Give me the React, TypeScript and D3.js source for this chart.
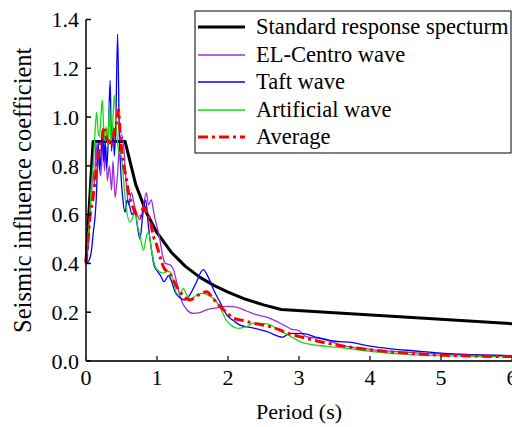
import React from "react";
import * as d3 from "d3";

const W = 512;
const H = 427;

const xTicks = [0, 1, 2, 3, 4, 5, 6];
const yTicks = [0, 0.2, 0.4, 0.6, 0.8, 1.0, 1.2, 1.4];

const legendLabels = [
  "Standard response specturm",
  "EL-Centro wave",
  "Taft wave",
  "Artificial wave",
  "Average",
];

const standardT = [0, 0.1, 0.55, 0.7, 0.85, 1.0, 1.2, 1.4, 1.6, 1.8, 2.0, 2.25, 2.5, 2.75, 6.0];
const standardV = [0.405, 0.9, 0.9, 0.724, 0.609, 0.526, 0.446, 0.388, 0.344, 0.31, 0.282, 0.253, 0.23, 0.211, 0.153];

const elT = [0, 0.03, 0.06, 0.08, 0.1, 0.12, 0.14, 0.16, 0.18, 0.2, 0.22, 0.24, 0.26, 0.28, 0.3, 0.33, 0.36, 0.38, 0.41, 0.44, 0.47, 0.5, 0.53, 0.57, 0.6, 0.64, 0.68, 0.72, 0.76, 0.8, 0.85, 0.88, 0.92, 0.96, 1.0, 1.04, 1.08, 1.12, 1.18, 1.23, 1.28, 1.33, 1.42, 1.51, 1.6, 1.7, 1.84, 2.0, 2.1, 2.26, 2.4, 2.59, 2.78, 2.9, 3.0, 3.1, 3.3, 3.67, 4.0, 4.6, 5.5, 6.0];
const elV = [0.4, 0.48, 0.62, 0.7, 0.78, 0.72, 0.9, 0.8, 0.86, 0.76, 0.8, 0.92, 0.78, 0.88, 0.74, 0.8, 0.7, 0.82, 0.67, 0.75, 0.88, 0.93, 0.88, 0.72, 0.64, 0.69, 0.64, 0.6, 0.58, 0.62, 0.69, 0.64, 0.66, 0.6, 0.55, 0.5, 0.43, 0.4, 0.395, 0.375, 0.32, 0.26, 0.21, 0.195, 0.198, 0.21, 0.218, 0.224, 0.222, 0.205, 0.19, 0.175, 0.148, 0.13, 0.124, 0.1, 0.092, 0.06, 0.048, 0.034, 0.025, 0.022];

const taftT = [0, 0.04, 0.08, 0.1, 0.13, 0.15, 0.17, 0.19, 0.21, 0.23, 0.25, 0.27, 0.29, 0.31, 0.34, 0.36, 0.38, 0.4, 0.42, 0.445, 0.47, 0.49, 0.52, 0.55, 0.58, 0.61, 0.65, 0.69, 0.72, 0.76, 0.8, 0.84, 0.88, 0.92, 0.96, 1.0, 1.05, 1.1, 1.16, 1.2, 1.26, 1.32, 1.39, 1.46, 1.55, 1.65, 1.72, 1.8, 1.89, 1.98, 2.08, 2.17, 2.36, 2.55, 2.77, 2.87, 3.06, 3.25, 3.48, 3.76, 4.0, 4.3, 4.6, 5.0, 5.5, 6.0];
const taftV = [0.4, 0.41, 0.46, 0.52, 0.6, 0.7, 0.9, 0.78, 0.84, 0.95, 0.82, 0.9, 0.79, 0.88, 1.15, 0.86, 0.96, 0.84, 0.98, 1.34, 0.92, 0.78, 0.66, 0.61, 0.66, 0.64, 0.6, 0.62, 0.56, 0.5, 0.6, 0.66, 0.55, 0.46, 0.39, 0.37, 0.35, 0.325, 0.35, 0.33, 0.28, 0.26, 0.25, 0.27, 0.32, 0.375, 0.345, 0.29, 0.24, 0.19, 0.165, 0.147, 0.135, 0.12, 0.098, 0.113, 0.112, 0.097, 0.082, 0.075, 0.061, 0.05, 0.042, 0.032, 0.025, 0.022];

const artT = [0, 0.03, 0.05, 0.07, 0.1, 0.12, 0.15, 0.17, 0.19, 0.21, 0.23, 0.25, 0.27, 0.29, 0.31, 0.33, 0.35, 0.37, 0.4, 0.43, 0.46, 0.5, 0.53, 0.57, 0.62, 0.66, 0.69, 0.73, 0.77, 0.81, 0.85, 0.88, 0.92, 0.97, 1.02, 1.09, 1.14, 1.18, 1.23, 1.27, 1.32, 1.37, 1.42, 1.48, 1.56, 1.65, 1.75, 1.82, 1.9, 1.98, 2.05, 2.14, 2.26, 2.36, 2.55, 2.73, 2.92, 3.06, 3.39, 3.67, 4.0, 4.6, 5.5, 6.0];
const artV = [0.44, 0.52, 0.58, 0.7, 0.8, 0.9, 1.02, 0.94, 0.92, 1.0, 1.07, 0.95, 0.9, 0.96, 0.88, 1.06, 0.9, 0.94, 1.09, 0.95, 0.86, 0.84, 0.74, 0.62, 0.57, 0.59, 0.61, 0.55, 0.5, 0.455, 0.51, 0.53, 0.46, 0.39, 0.37, 0.36, 0.367, 0.366, 0.33, 0.28, 0.27, 0.298, 0.27, 0.255, 0.27, 0.277, 0.265, 0.25, 0.212, 0.165, 0.145, 0.134, 0.141, 0.155, 0.152, 0.125, 0.095, 0.074, 0.06, 0.052, 0.04, 0.026, 0.019, 0.017];

const avgT = [0, 0.03, 0.06, 0.09, 0.12, 0.15, 0.19, 0.23, 0.26, 0.29, 0.33, 0.36, 0.39, 0.43, 0.455, 0.49, 0.52, 0.56, 0.6, 0.65, 0.69, 0.76, 0.81, 0.85, 0.9, 0.95, 0.99, 1.05, 1.1, 1.18, 1.25, 1.31, 1.37, 1.46, 1.58, 1.7, 1.78, 1.84, 1.96, 2.07, 2.22, 2.36, 2.59, 2.73, 2.83, 3.01, 3.3, 3.67, 4.0, 4.6, 5.5, 6.0];
const avgV = [0.4, 0.5, 0.6, 0.65, 0.72, 0.8, 0.87, 0.92, 0.96, 0.91, 0.9, 0.88, 0.93, 0.98, 1.03, 0.9, 0.82, 0.76, 0.69, 0.64, 0.61, 0.59, 0.63, 0.61, 0.58, 0.51, 0.48, 0.42, 0.38, 0.36, 0.32, 0.29, 0.268, 0.25, 0.27, 0.284, 0.26, 0.238, 0.205, 0.177, 0.165, 0.155, 0.141, 0.127, 0.115, 0.1, 0.079, 0.059, 0.046, 0.03, 0.02, 0.018];

const FONT = "Liberation Serif, Times New Roman, Times, DejaVu Serif, serif";

type P = [number, number];
const zip = (a: number[], b: number[]): P[] => a.map((t, i) => [t, b[i]]);

export default function App() {
  const left = 86;
  const right = 512;
  const top = 19.5;
  const bottom = 361;
  const x = d3.scaleLinear().domain([0, 6]).range([left, right]);
  const y = d3.scaleLinear().domain([0, 1.4]).range([bottom, top]);

  const lin = d3.line<P>().x((d) => x(d[0])).y((d) => y(d[1]));
  const smooth = d3
    .line<P>()
    .x((d) => x(d[0]))
    .y((d) => y(d[1]))
    .curve(d3.curveMonotoneX);

  const series = [
    { label: legendLabels[0], pts: zip(standardT, standardV), color: "#000000", w: 3, dash: "", gen: lin },
    { label: legendLabels[1], pts: zip(elT, elV), color: "#9b30d8", w: 1.3, dash: "", gen: smooth },
    { label: legendLabels[2], pts: zip(taftT, taftV), color: "#0000ff", w: 1.3, dash: "", gen: smooth },
    { label: legendLabels[3], pts: zip(artT, artV), color: "#11dd11", w: 1.3, dash: "", gen: smooth },
    { label: legendLabels[4], pts: zip(avgT, avgV), color: "#ff0000", w: 3, dash: "10,4,3,4", gen: smooth },
  ];

  const lgX = 195;
  const lgY = 11;
  const lgW = 316;
  const lgH = 142;
  const rowY = [27, 55, 82, 110, 137];
  const fs = 22;

  return (
    <svg
      width={W}
      height={H}
      style={{ position: "absolute", left: 0, top: 0, background: "#fff", fontFamily: FONT }}
    >
      <rect x={0} y={0} width={W} height={H} fill="#fff" />
      {series.map((s, i) => (
        <path
          key={i}
          d={s.gen(s.pts) || ""}
          fill="none"
          stroke={s.color}
          strokeWidth={s.w}
          strokeDasharray={s.dash || undefined}
          strokeLinejoin="round"
        />
      ))}
      {/* axes */}
      <line x1={left} y1={top} x2={left} y2={bottom} stroke="#000" strokeWidth={1.5} />
      <line x1={left} y1={bottom} x2={right} y2={bottom} stroke="#333" strokeWidth={2} />
      {yTicks.map((t) => (
        <g key={"y" + t}>
          <line x1={left} x2={left + 5} y1={y(t)} y2={y(t)} stroke="#000" strokeWidth={1.5} />
          <text x={left - 7} y={y(t)} dy="0.35em" textAnchor="end" fontSize={fs} style={{ fontFamily: FONT }}>
            {t.toFixed(1)}
          </text>
        </g>
      ))}
      {xTicks.map((t) => (
        <g key={"x" + t}>
          <line x1={x(t)} x2={x(t)} y1={bottom} y2={bottom - 5} stroke="#333" strokeWidth={1.5} />
          <text x={x(t)} y={bottom + 24} textAnchor="middle" fontSize={fs} style={{ fontFamily: FONT }}>
            {t}
          </text>
        </g>
      ))}
      <text x={(left + right) / 2} y={419} textAnchor="middle" fontSize={22} style={{ fontFamily: FONT }}>
        Period (s)
      </text>
      <text
        transform={`translate(31, ${(top + bottom) / 2}) rotate(-90)`}
        textAnchor="middle"
        fontSize={24.5}
        style={{ fontFamily: FONT }}
      >
        Seismic influence coefficient
      </text>
      {/* legend */}
      <rect x={lgX} y={lgY} width={lgW} height={lgH} fill="#fff" stroke="#000" strokeWidth={1} />
      {series.map((s, i) => (
        <g key={"lg" + i}>
          <line
            x1={198}
            x2={245}
            y1={rowY[i]}
            y2={rowY[i]}
            stroke={s.color}
            strokeWidth={s.w}
            strokeDasharray={s.dash || undefined}
          />
          <text x={256} y={rowY[i]} dy="0.33em" fontSize={22.5} style={{ fontFamily: FONT }}>
            {s.label}
          </text>
        </g>
      ))}
    </svg>
  );
}
